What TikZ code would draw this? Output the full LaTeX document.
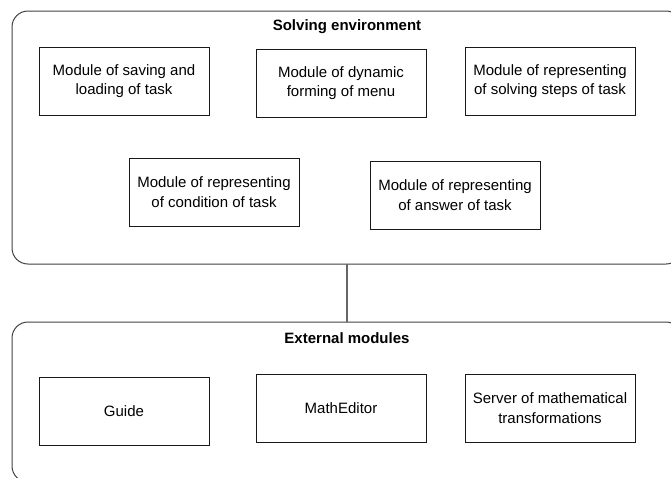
\documentclass[tikz,border=0pt]{standalone}
\usepackage{fontspec}
\setmainfont{Liberation Sans}
\begin{document}
\begin{tikzpicture}[x=1pt,y=-1pt,
  container/.style={draw=black!75,line width=1pt,rounded corners=16pt,inner sep=0pt,outer sep=0pt,anchor=north west},
  modbox/.style={draw=black!90,line width=1pt,inner sep=0pt,outer sep=0pt,anchor=north west,
    minimum width=170pt,minimum height=68pt,align=center,font=\fontsize{15}{19.5}\selectfont},
  title/.style={font=\fontsize{15}{18}\selectfont\bfseries,inner sep=0pt},
  conn/.style={draw=black!60,line width=2pt}]
\useasboundingbox (0,0) rectangle (671,477);
\begin{scope}
\clip (0,0) rectangle (671,477);
\node[container,minimum width=670pt,minimum height=253pt] (env) at (12,11) {};
\node[container,minimum width=670pt,minimum height=160pt] (ext) at (12,322) {};
\end{scope}
\node[title] (envt) at (347,27) {Solving environment};
\node[title] (extt) at (347,338) {External modules};
\node[modbox] (b1) at (39,47) {Module of saving and\\loading of task};
\node[modbox] (b2) at (256,49) {Module of dynamic\\forming of menu};
\node[modbox] (b3) at (465,47) {Module of representing\\of solving steps of task};
\node[modbox] (b4) at (129,158) {Module of representing\\of condition of task};
\node[modbox] (b5) at (370,161) {Module of representing\\of answer of task};
\node[modbox] (g) at (39,377) {Guide};
\node[modbox] (m) at (256,374) {MathEditor};
\node[modbox] (s) at (465,374) {Server of mathematical\\transformations};
\draw[conn] (env.south) -- (ext.north);
\end{tikzpicture}
\end{document}
